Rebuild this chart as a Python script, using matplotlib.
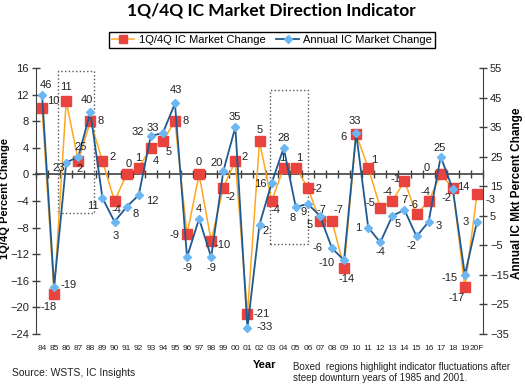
import numpy as np
import matplotlib
matplotlib.use("Agg")
import matplotlib.pyplot as plt
from matplotlib.patches import Rectangle

RED    = "#e8433d"
ORANGE = "#ffa720"
NAVY   = "#1f5a91"
LIGHT  = "#6cb6f2"
AXIS   = "#404040"
TEXT   = "#222222"

plt.rcParams["font.family"] = ["Liberation Sans", "DejaVu Sans"]

years = ["84", "85", "86", "87", "88", "89", "90", "91", "92", "93", "94", "95",
         "96", "97", "98", "99", "00", "01", "02", "03", "04", "05", "06", "07",
         "08", "09", "10", "11", "12", "13", "14", "15", "16", "17", "18", "19", "20F"]

q_change = [10, -18, 11, 2, 8, 2, -4, 0, 1, 4, 5, 8, -9, 0, -10, -2, 2, -21, 5, -4,
            1, 1, -2, -7, -7, -14, 6, 1, -5, -4, -1, -6, -4, 0, -2, -17, -3]

annual_change = [46, -19, 23, 25, 40, 11, 3, 8, 12, 32, 33, 43, -9, 4, -9, 20, 35, -33,
                 2, 16, 28, 8, 9, 5, -6, -10, 33, 1, -4, 5, 7, -2, 3, 25, 14, -15, 3]

# label offsets in pixels (dx, dy up)
q_offsets = [(11, 7), (-5, -13), (0, 14), (1, -8), (10, 0), (10, 4), (2, -9), (2, 10),
             (0, 10), (5, -13), (6, -11), (11, 0), (-13, -1), (0, 12), (11, -4), (7, -9),
             (9, 4), (14, 0), (0, 11), (4, -9), (-1, 10), (3, 10), (10, -1), (2, 11),
             (6, 11), (2, -11), (-13, -3), (6, 8), (-10, 5), (-5, 9), (-9, 2), (-3, 9),
             (-3, 9), (-14, 6), (-6, -10), (-8, -11), (14, -6)]
a_offsets = [(4, 10), (14, 2), (-8, -5), (2, 10), (-3, 12), (-10, -8), (1, -14), (9, -7),
             (14, -6), (-13, 4), (-10, 5), (1, 13), (0, -11), (0, 10), (0, -11), (-7, 8),
             (-1, 10), (17, 1), (6, -6), (-11, -1), (0, 10), (-3, -11), (-4, -8), (-10, -9),
             (-14, 0), (-18, -3), (-1, 12), (-10, 0), (0, -10), (5, -8), (0, 10), (-5, -10),
             (10, -4), (-1, 9), (10, 2), (-15, -3), (-11, 0)]

fig = plt.figure(figsize=(5.25, 3.85), dpi=100)
ax = fig.add_axes([36 / 525, 1 - 334 / 385, 447 / 525, 266 / 385])
ax2 = ax.twinx()

x = np.arange(len(years))
l1, = ax.plot(x, q_change, color=ORANGE, lw=1.1, marker="s", ms=6.5,
              mfc=RED, mec=RED, zorder=3, label="1Q/4Q IC Market Change")
l2, = ax2.plot(x, annual_change, color=NAVY, lw=1.3, marker="D", ms=4.5,
               mfc=LIGHT, mec=LIGHT, zorder=3, label="Annual IC Market Change")

for xi, v, (dx, dy) in zip(x, q_change, q_offsets):
    ax.annotate(f"{v}", (xi, v), xytext=(dx, dy), textcoords="offset pixels",
                ha="center", va="center", fontsize=8, color=TEXT, zorder=5)
for xi, v, (dx, dy) in zip(x, annual_change, a_offsets):
    ax2.annotate(f"{v}", (xi, v), xytext=(dx, dy), textcoords="offset pixels",
                 ha="center", va="center", fontsize=8, color=TEXT, zorder=5)

# boxed regions after 1985 and 2001 downturns
for x0, x1, y0, y1 in [(1.35, 4.30, -5.85, 15.6), (18.87, 22.04, -10.4, 12.69)]:
    ax.add_patch(Rectangle((x0, y0), x1 - x0, y1 - y0, fill=False, ls=":",
                           lw=1.0, ec="#555555", zorder=1))

ax.set_xlim(-0.5, len(years) - 0.5)
ax.set_ylim(-24, 16)
ax2.set_ylim(-35, 55)
ax.set_yticks(range(-24, 17, 4))
ax2.set_yticks(range(-35, 56, 10))
ax.set_xticks(x)
ax.set_xticklabels(years, fontsize=6, color=TEXT)
ax.tick_params(axis="x", length=0, pad=8)
ax.tick_params(axis="y", direction="inout", length=6, width=1, color=AXIS,
               labelsize=8, labelcolor=TEXT, pad=2)
ax2.tick_params(axis="y", direction="inout", length=6, width=1, color=AXIS,
                labelsize=8, labelcolor=TEXT, pad=2)

for s in ["top", "bottom", "right"]:
    ax.spines[s].set_visible(False)
for s in ["top", "bottom", "left"]:
    ax2.spines[s].set_visible(False)
ax.spines["left"].set_color(AXIS)
ax2.spines["right"].set_color(AXIS)

# zero line with category ticks
sec = ax.secondary_xaxis(24 / 40)
sec.set_xticks(np.arange(-0.5, len(years), 1.0))
sec.tick_params(direction="inout", length=6, width=1, color=AXIS,
                labeltop=False, labelbottom=False)
for s in sec.spines.values():
    s.set_color(AXIS)
    s.set_linewidth(1.2)

ax.set_ylabel("1Q/4Q Percent Change", fontsize=8, fontweight="bold", color="black")
ax.yaxis.set_label_coords(-0.058, 0.51)
ax2.set_ylabel("Annual IC Mkt Percent Change", fontsize=8.5, fontweight="bold",
               color="black", rotation=90)
ax2.yaxis.set_label_coords(1.062, 0.53)

fig.text(271 / 525, 1 - 10 / 385, "1Q/4Q IC Market Direction Indicator",
         family=["Lato", "DejaVu Sans"], fontweight="bold", fontsize=12.5,
         ha="center", va="center")

ax2.legend([l1, l2], [l1.get_label(), l2.get_label()], loc="center",
           bbox_to_anchor=(272 / 525, 1 - 40 / 385), bbox_transform=fig.transFigure,
           ncol=2, fancybox=False, edgecolor="black", framealpha=1, fontsize=8,
           handlelength=2, columnspacing=1.0, handletextpad=0.4, borderpad=0.3,
           markerscale=0.85)

fig.text(265 / 525, 1 - 365 / 385, "Year", fontsize=8, fontweight="bold",
         ha="center", va="center")
fig.text(12 / 525, 1 - 373 / 385, "Source: WSTS, IC Insights", fontsize=7.5,
         ha="left", va="center", color=TEXT)
fig.text(293 / 525, 1 - 372.5 / 385,
         "Boxed  regions highlight indicator fluctuations after\nsteep downturn years of 1985 and 2001.",
         fontsize=7, ha="left", va="center", color=TEXT, linespacing=1.05)

fig.savefig("out.png", dpi=100)
